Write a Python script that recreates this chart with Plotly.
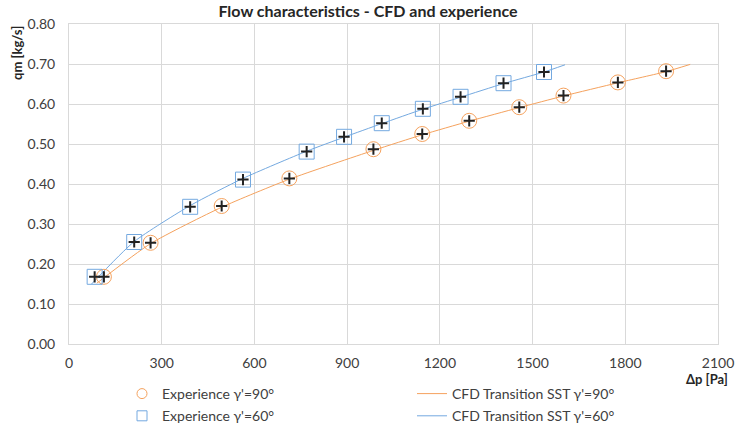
import plotly.graph_objects as go

# Experimental data (gamma' = 90 deg)
exp90_dp = [113, 264, 494, 713, 985, 1143, 1295, 1457, 1600, 1776, 1932]
exp90_qm = [0.168, 0.253, 0.345, 0.414, 0.487, 0.525, 0.558, 0.592, 0.621, 0.654, 0.682]

# Experimental data (gamma' = 60 deg)
exp60_dp = [83, 211, 392, 563, 769, 890, 1012, 1145, 1267, 1406, 1537]
exp60_qm = [0.168, 0.255, 0.343, 0.411, 0.481, 0.518, 0.552, 0.588, 0.618, 0.652, 0.680]

# CFD Transition SST curves
cfd90_dp = [90, 264, 494, 713, 985, 1143, 1295, 1457, 1600, 1776, 1932, 2010]
cfd90_qm = [0.152, 0.251, 0.342, 0.412, 0.484, 0.523, 0.557, 0.591, 0.620, 0.653, 0.681, 0.699]

cfd60_dp = [73, 211, 392, 563, 769, 890, 1012, 1145, 1267, 1406, 1537, 1605]
cfd60_qm = [0.150, 0.256, 0.346, 0.414, 0.482, 0.517, 0.551, 0.587, 0.617, 0.651, 0.680, 0.698]

x_ticks = [0, 300, 600, 900, 1200, 1500, 1800, 2100]
y_ticks = [0.0, 0.1, 0.2, 0.3, 0.4, 0.5, 0.6, 0.7, 0.8]

ORANGE = "#F5A25E"
BLUE = "#74A9E0"
FONT = "Lato"

fig = go.Figure()
fig.add_trace(go.Scatter(x=cfd90_dp, y=cfd90_qm, mode="lines", showlegend=False,
                         line=dict(color=ORANGE, width=1, shape="spline", smoothing=0.6)))
fig.add_trace(go.Scatter(x=cfd60_dp, y=cfd60_qm, mode="lines", showlegend=False,
                         line=dict(color=BLUE, width=1, shape="spline", smoothing=0.6)))
fig.add_trace(go.Scatter(x=exp90_dp, y=exp90_qm, mode="markers", showlegend=False,
                         marker=dict(symbol="circle-open", size=15, color=ORANGE, line=dict(width=1))))
fig.add_trace(go.Scatter(x=exp60_dp, y=exp60_qm, mode="markers", showlegend=False,
                         marker=dict(symbol="square-open", size=15, color=BLUE, line=dict(width=1))))
# black crosses on experimental points
fig.add_trace(go.Scatter(x=exp90_dp + exp60_dp, y=exp90_qm + exp60_qm, mode="markers", showlegend=False,
                         marker=dict(symbol="cross-thin", size=8, color="#222222",
                                     line=dict(width=2, color="#222222"))))

# legend-only entries
fig.add_trace(go.Scatter(x=[None], y=[None], mode="markers", name="Experience γ'=90°",
                         legend="legend", legendgroup="a",
                         marker=dict(symbol="circle-open", size=10, color=ORANGE, line=dict(width=1))))
fig.add_trace(go.Scatter(x=[None], y=[None], mode="markers", name="Experience γ'=60°",
                         legend="legend", legendgroup="b",
                         marker=dict(symbol="square-open", size=10, color=BLUE, line=dict(width=1))))
fig.add_trace(go.Scatter(x=[None], y=[None], mode="lines", name="CFD Transition SST γ'=90°",
                         legend="legend2", legendgroup="c", line=dict(color=ORANGE, width=1)))
fig.add_trace(go.Scatter(x=[None], y=[None], mode="lines", name="CFD Transition SST γ'=60°",
                         legend="legend2", legendgroup="d", line=dict(color=BLUE, width=1)))

leg_common = dict(orientation="v", yref="container", xref="container", y=(424 - 378) / 424,
                  yanchor="top", xanchor="left", tracegroupgap=1, traceorder="grouped",
                  font=dict(size=14, color="#404040", family=FONT), bgcolor="rgba(0,0,0,0)")

fig.update_layout(
    width=736, height=424,
    margin=dict(l=69, r=18, t=24, b=80, autoexpand=False),
    paper_bgcolor="white", plot_bgcolor="white",
    font=dict(family=FONT, size=14, color="#404040"),
    title=dict(text="<b>Flow characteristics - CFD and experience</b>", x=0.5, xref="container",
               xanchor="center", y=(424 - 11) / 424, yref="container", yanchor="middle",
               font=dict(size=16, color="#262626", family=FONT)),
    legend=dict(x=(122 - 0) / 736, **leg_common),
    legend2=dict(x=(412 - 0) / 736, **leg_common),
    showlegend=True,
)
fig.update_xaxes(range=[0, 2100], tickvals=x_ticks, ticktext=[str(v) for v in x_ticks],
                 showgrid=True, gridcolor="#D9D9D9", gridwidth=1, zeroline=False,
                 showline=True, linecolor="#D9D9D9", mirror=True,
                 ticks="outside", ticklen=6, tickcolor="rgba(0,0,0,0)",
                 tickfont=dict(size=14, color="#404040"))
fig.update_yaxes(range=[0, 0.8], tickvals=y_ticks, ticktext=[f"{v:.2f}" for v in y_ticks],
                 showgrid=True, gridcolor="#D9D9D9", gridwidth=1, zeroline=False,
                 showline=True, linecolor="#D9D9D9", mirror=True,
                 ticks="outside", ticklen=10, tickcolor="rgba(0,0,0,0)",
                 tickfont=dict(size=14, color="#404040"))

fig.add_annotation(text="<b>qm [kg/s]</b>", textangle=-90, xref="paper", yref="paper",
                   x=(17 - 69) / 649, y=1.0, xanchor="center", yanchor="top", showarrow=False,
                   font=dict(size=13, color="#262626", family=FONT))
fig.add_annotation(text="<b>Δp [Pa]</b>", xref="paper", yref="paper",
                   x=(707 - 69) / 649, y=-(379 - 344) / 320, xanchor="center", yanchor="middle",
                   showarrow=False, font=dict(size=13, color="#262626", family=FONT))

fig.write_html("out.html")
